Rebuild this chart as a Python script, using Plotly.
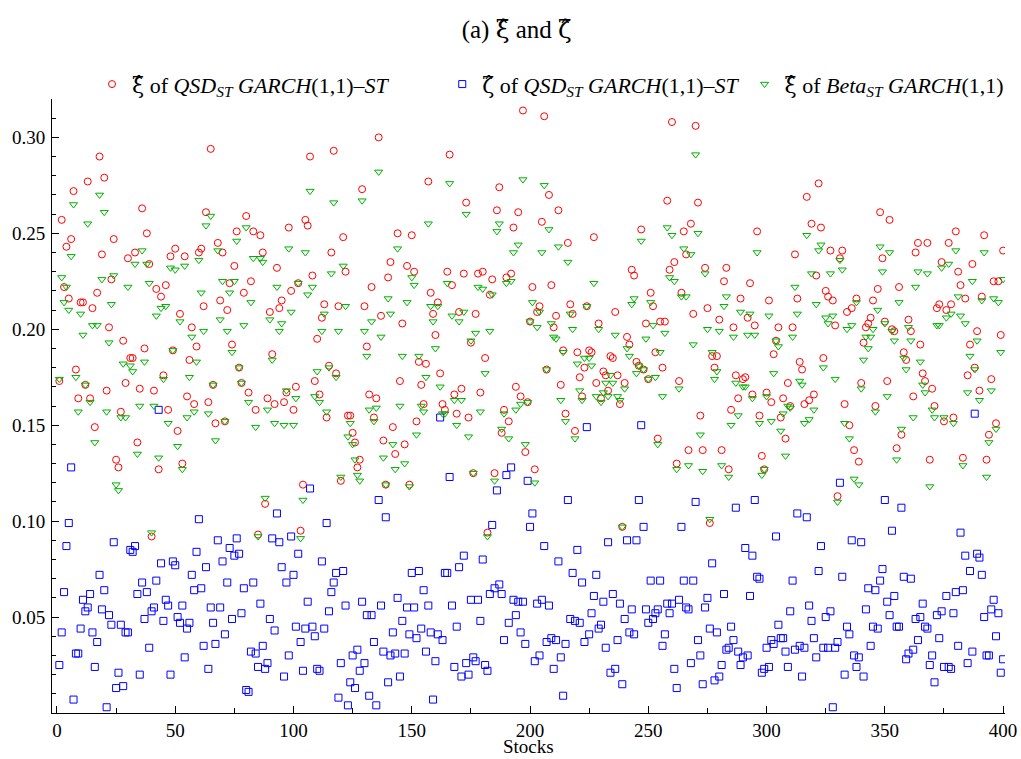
import plotly.graph_objects as go

stocks = list(range(1, 401))

xi_qsd = [
 0.173,0.257,0.222,0.243,0.216,0.247,0.272,0.179,0.164,0.214,
 0.214,0.171,0.277,0.164,0.211,0.149,0.219,0.290,0.239,0.279,
 0.168,0.201,0.226,0.247,0.132,0.128,0.157,0.194,0.172,0.237,
 0.185,0.185,0.240,0.141,0.169,0.263,0.190,0.250,0.234,0.092,
 0.168,0.221,0.127,0.217,0.176,0.223,0.158,0.238,0.189,0.242,
 0.147,0.208,0.130,0.238,0.165,0.184,0.201,0.161,0.191,0.240,
 0.242,0.212,0.261,0.162,0.294,0.171,0.151,0.245,0.215,0.240,
 0.152,0.210,0.224,0.192,0.233,0.251,0.180,0.172,0.219,0.259,
 0.167,0.225,0.251,0.158,0.093,0.249,0.240,0.109,0.164,0.209,
 0.187,0.161,0.232,0.211,0.215,0.162,0.167,0.253,0.220,0.158,
 0.170,0.224,0.095,0.119,0.257,0.254,0.290,0.228,0.173,0.195,
 0.166,0.206,0.213,0.154,0.181,0.240,0.293,0.177,0.212,0.121,
 0.248,0.230,0.155,0.155,0.146,0.141,0.128,0.132,0.273,0.212,
 0.191,0.166,0.222,0.154,0.164,0.300,0.207,0.142,0.119,0.227,
 0.235,0.149,0.135,0.250,0.173,0.203,0.140,0.233,0.119,0.249,
 0.230,0.152,0.183,0.171,0.161,0.182,0.277,0.219,0.208,0.197,
 0.214,0.177,0.161,0.158,0.230,0.291,0.223,0.166,0.156,0.209,
 0.169,0.229,0.266,0.154,0.193,0.125,0.208,0.229,0.167,0.230,
 0.185,0.094,0.218,0.226,0.125,0.262,0.274,0.146,0.158,0.227,
 0.152,0.229,0.253,0.170,0.261,0.165,0.314,0.136,0.162,0.204,
 0.222,0.127,0.209,0.212,0.256,0.311,0.179,0.270,0.223,0.201,
 0.207,0.262,0.171,0.189,0.156,0.245,0.213,0.208,0.147,0.188,
 0.175,0.165,0.180,0.212,0.189,0.188,0.248,0.172,0.203,0.164,
 0.178,0.176,0.168,0.186,0.185,0.209,0.176,0.161,0.097,0.172,
 0.196,0.192,0.231,0.228,0.183,0.181,0.252,0.179,0.203,0.174,
 0.219,0.212,0.188,0.143,0.204,0.180,0.204,0.267,0.231,0.308,
 0.235,0.130,0.173,0.219,0.251,0.239,0.137,0.255,0.208,0.306,
 0.266,0.155,0.137,0.232,0.211,0.099,0.186,0.180,0.186,0.205,
 0.137,0.225,0.232,0.127,0.158,0.201,0.176,0.164,0.216,0.174,
 0.175,0.206,0.224,0.166,0.202,0.251,0.155,0.134,0.127,0.167,
 0.215,0.162,0.187,0.194,0.201,0.154,0.164,0.143,0.172,0.160,
 0.201,0.239,0.216,0.183,0.179,0.161,0.269,0.163,0.255,0.166,
 0.228,0.276,0.253,0.185,0.220,0.217,0.241,0.215,0.202,0.113,
 0.237,0.241,0.161,0.209,0.150,0.211,0.137,0.216,0.131,0.172,
 0.193,0.201,0.203,0.206,0.215,0.160,0.221,0.261,0.237,0.204,
 0.173,0.257,0.200,0.199,0.138,0.222,0.145,0.188,0.184,0.205,
 0.199,0.165,0.240,0.245,0.192,0.177,0.173,0.245,0.132,0.169,
 0.160,0.211,0.213,0.235,0.152,0.210,0.245,0.213,0.154,0.251,
 0.230,0.223,0.133,0.216,0.176,0.192,0.234,0.180,0.199,0.168,
 0.217,0.249,0.132,0.145,0.174,0.225,0.151,0.225,0.197,0.241,
]

zeta_qsd = [
 0.025,0.042,0.063,0.087,0.099,0.128,0.007,0.031,0.031,0.044,
 0.059,0.053,0.055,0.062,0.042,0.024,0.037,0.072,0.054,0.064,
 0.003,0.051,0.046,0.089,0.013,0.021,0.046,0.014,0.042,0.042,
 0.085,0.084,0.087,0.062,0.020,0.068,0.049,0.063,0.034,0.053,
 0.055,0.069,0.158,0.078,0.048,0.059,0.056,0.020,0.079,0.077,
 0.050,0.047,0.056,0.029,0.044,0.047,0.072,0.064,0.084,0.101,
 0.065,0.035,0.076,0.023,0.055,0.047,0.036,0.090,0.055,0.079,
 0.041,0.068,0.086,0.049,0.082,0.091,0.083,0.052,0.065,0.012,
 0.011,0.032,0.068,0.031,0.024,0.057,0.035,0.023,0.026,0.049,
 0.091,0.043,0.104,0.089,0.076,0.019,0.068,0.030,0.092,0.072,
 0.045,0.083,0.037,0.022,0.044,0.058,0.117,0.045,0.040,0.023,
 0.022,0.079,0.044,0.099,0.053,0.063,0.068,0.073,0.008,0.026,
 0.074,0.056,0.004,0.016,0.030,0.013,0.033,0.022,0.058,0.026,
 0.051,0.009,0.051,0.037,0.004,0.111,0.056,0.032,0.102,0.016,
 0.030,0.042,0.031,0.060,0.019,0.048,0.031,0.055,0.041,0.073,
 0.055,0.039,0.074,0.044,0.064,0.032,0.056,0.042,0.007,0.027,
 0.041,0.154,0.038,0.073,0.073,0.123,0.056,0.024,0.045,0.076,
 0.019,0.082,0.026,0.020,0.059,0.029,0.027,0.059,0.048,0.080,
 0.025,0.022,0.062,0.098,0.065,0.116,0.067,0.062,0.038,0.124,
 0.047,0.128,0.059,0.051,0.058,0.042,0.058,0.036,0.121,0.097,
 0.104,0.027,0.057,0.030,0.059,0.087,0.037,0.056,0.039,0.023,
 0.038,0.079,0.029,0.009,0.036,0.111,0.049,0.073,0.048,0.085,
 0.047,0.068,0.037,0.149,0.041,0.052,0.061,0.072,0.044,0.046,
 0.058,0.034,0.089,0.021,0.062,0.023,0.038,0.057,0.015,0.049,
 0.090,0.042,0.054,0.041,0.090,0.111,0.150,0.097,0.054,0.047,
 0.069,0.049,0.052,0.054,0.069,0.035,0.041,0.057,0.052,0.057,
 0.023,0.013,0.059,0.097,0.069,0.055,0.054,0.026,0.069,0.110,
 0.038,0.030,0.015,0.055,0.060,0.044,0.078,0.017,0.042,0.019,
 0.025,0.062,0.033,0.034,0.045,0.038,0.107,0.032,0.025,0.029,
 0.086,0.030,0.061,0.082,0.111,0.071,0.070,0.021,0.023,0.034,
 0.024,0.038,0.036,0.092,0.046,0.039,0.039,0.032,0.024,0.053,
 0.069,0.033,0.104,0.035,0.019,0.034,0.102,0.056,0.048,0.039,
 0.029,0.074,0.087,0.034,0.050,0.034,0.053,0.003,0.034,0.037,
 0.120,0.071,0.020,0.045,0.041,0.090,0.030,0.024,0.029,0.089,
 0.019,0.054,0.065,0.035,0.045,0.064,0.044,0.069,0.075,0.111,
 0.058,0.051,0.095,0.061,0.045,0.045,0.107,0.071,0.028,0.031,
 0.070,0.033,0.049,0.038,0.050,0.057,0.045,0.044,0.025,0.030,
 0.016,0.051,0.039,0.053,0.024,0.061,0.024,0.023,0.052,0.063,
 0.035,0.094,0.064,0.082,0.026,0.074,0.032,0.156,0.083,0.081,
 0.072,0.050,0.030,0.030,0.054,0.059,0.040,0.052,0.021,0.028,
]

xi_beta = [
 0.174,0.227,0.214,0.222,0.210,0.238,0.265,0.175,0.157,0.208,
 0.197,0.171,0.255,0.162,0.202,0.141,0.202,0.270,0.226,0.261,
 0.157,0.193,0.213,0.228,0.119,0.116,0.154,0.182,0.154,0.222,
 0.181,0.178,0.234,0.135,0.160,0.241,0.183,0.234,0.224,0.094,
 0.160,0.207,0.133,0.211,0.174,0.212,0.151,0.232,0.189,0.231,
 0.139,0.204,0.127,0.233,0.154,0.175,0.196,0.157,0.183,0.236,
 0.219,0.199,0.254,0.156,0.259,0.171,0.142,0.241,0.205,0.225,
 0.152,0.199,0.219,0.188,0.225,0.246,0.180,0.172,0.202,0.253,
 0.162,0.214,0.237,0.149,0.092,0.237,0.235,0.112,0.158,0.205,
 0.184,0.151,0.222,0.199,0.203,0.150,0.168,0.242,0.209,0.150,
 0.164,0.224,0.091,0.111,0.240,0.218,0.272,0.222,0.165,0.178,
 0.162,0.199,0.208,0.157,0.180,0.229,0.266,0.175,0.199,0.123,
 0.233,0.212,0.144,0.151,0.140,0.132,0.124,0.121,0.267,0.199,
 0.186,0.158,0.204,0.152,0.159,0.282,0.196,0.133,0.119,0.216,
 0.208,0.140,0.127,0.242,0.160,0.186,0.130,0.214,0.118,0.227,
 0.223,0.145,0.186,0.160,0.157,0.175,0.255,0.212,0.204,0.190,
 0.212,0.170,0.156,0.156,0.224,0.276,0.207,0.163,0.150,0.204,
 0.163,0.209,0.260,0.144,0.194,0.125,0.198,0.222,0.157,0.221,
 0.177,0.092,0.199,0.218,0.121,0.251,0.255,0.148,0.156,0.224,
 0.143,0.225,0.240,0.158,0.244,0.161,0.278,0.140,0.162,0.204,
 0.214,0.120,0.201,0.209,0.240,0.275,0.179,0.252,0.203,0.196,
 0.195,0.243,0.163,0.188,0.152,0.235,0.208,0.200,0.143,0.182,
 0.168,0.163,0.185,0.212,0.185,0.181,0.224,0.165,0.200,0.162,
 0.167,0.172,0.165,0.176,0.172,0.197,0.165,0.163,0.097,0.169,
 0.190,0.186,0.213,0.216,0.177,0.181,0.246,0.179,0.195,0.174,
 0.214,0.202,0.175,0.140,0.188,0.165,0.198,0.253,0.227,0.249,
 0.225,0.127,0.169,0.217,0.242,0.217,0.129,0.239,0.192,0.291,
 0.250,0.145,0.126,0.229,0.200,0.101,0.188,0.174,0.178,0.199,
 0.129,0.212,0.217,0.123,0.150,0.196,0.172,0.155,0.209,0.170,
 0.170,0.197,0.208,0.164,0.197,0.240,0.151,0.124,0.127,0.165,
 0.207,0.152,0.177,0.194,0.191,0.147,0.156,0.134,0.160,0.159,
 0.196,0.222,0.208,0.173,0.171,0.151,0.249,0.153,0.229,0.158,
 0.213,0.241,0.244,0.180,0.206,0.203,0.229,0.207,0.174,0.110,
 0.236,0.231,0.151,0.200,0.143,0.202,0.122,0.214,0.119,0.169,
 0.184,0.196,0.190,0.196,0.200,0.157,0.210,0.243,0.230,0.203,
 0.165,0.240,0.199,0.194,0.132,0.214,0.148,0.185,0.179,0.201,
 0.194,0.154,0.222,0.230,0.183,0.171,0.167,0.229,0.118,0.158,
 0.154,0.202,0.202,0.232,0.154,0.206,0.234,0.208,0.151,0.241,
 0.217,0.207,0.129,0.203,0.167,0.186,0.225,0.179,0.194,0.163,
 0.215,0.240,0.123,0.141,0.168,0.216,0.148,0.214,0.188,0.226,
]

XI = "<span style=\"font-family:'DejaVu Serif'\">ξ̂</span>"
ZETA = "<span style=\"font-family:'DejaVu Serif'\">ζ̂</span>"
PAD = "\u00a0" * 9
names = [
    XI + " of <i>QSD</i><sub><i>ST</i></sub> <i>GARCH</i>(1,1)–<i>ST</i>" + PAD,
    ZETA + " of <i>QSD</i><sub><i>ST</i></sub> <i>GARCH</i>(1,1)–<i>ST</i>",
    XI + " of <i>Beta</i><sub><i>ST</i></sub> <i>GARCH</i>(1,1)",
]
title_text = "(a) " + XI + " and " + ZETA
y_tickvals = [0.05, 0.10, 0.15, 0.20, 0.25, 0.30]
y_ticktext = ["0.05", "0.10", "0.15", "0.20", "0.25", "0.30"]
x_tickvals = [0, 50, 100, 150, 200, 250, 300, 350, 400]

FONT = "Liberation Serif, DejaVu Serif, serif"

fig = go.Figure()
fig.add_trace(go.Scatter(x=stocks, y=xi_qsd, mode="markers", name=names[0],
                         marker=dict(symbol="circle-open", size=7, color="#ff0000", line=dict(width=1))))
fig.add_trace(go.Scatter(x=stocks, y=zeta_qsd, mode="markers", name=names[1],
                         marker=dict(symbol="square-open", size=7, color="#0000ff", line=dict(width=1))))
fig.add_trace(go.Scatter(x=stocks, y=xi_beta, mode="markers", name=names[2],
                         marker=dict(symbol="triangle-down-open", size=7, color="#00b000", line=dict(width=1))))

fig.update_layout(
    width=1021, height=759,
    paper_bgcolor="white", plot_bgcolor="white",
    margin=dict(l=52, r=16, t=99, b=46, autoexpand=False),
    font=dict(family=FONT, size=19, color="black"),
    title=dict(text=title_text, x=0.506, xanchor="center",
               y=0.962, yanchor="middle", font=dict(size=25, family=FONT)),
    legend=dict(orientation="h", x=0.042, xanchor="left", y=1.024, yanchor="middle",
                font=dict(size=22, family=FONT), bgcolor="rgba(0,0,0,0)",
                itemwidth=30, tracegroupgap=0),
    showlegend=True,
    annotations=[dict(text="Stocks", x=0.5, xref="paper", y=-0.0725, yref="paper",
                      yanchor="bottom", xanchor="center", showarrow=False, borderpad=0,
                      font=dict(size=19, family=FONT))],
)
fig.update_xaxes(
    range=[-2.1, 400.8], showline=True, linecolor="black", linewidth=1, mirror=False,
    showgrid=False, zeroline=False, automargin=False,
    tickmode="array", tickvals=x_tickvals, ticks="inside", ticklen=7, tickcolor="black",
    minor=dict(dtick=25, tick0=0, ticks="inside", ticklen=5, tickcolor="black", showgrid=False),
    tickfont=dict(size=19, family=FONT),
)
fig.update_yaxes(
    range=[0, 0.32], showline=True, linecolor="black", linewidth=1, mirror=False,
    showgrid=False, zeroline=False, automargin=False,
    tickmode="array", tickvals=y_tickvals, ticktext=y_ticktext,
    ticks="inside", ticklen=7, tickcolor="black",
    minor=dict(dtick=0.01, tick0=0, ticks="inside", ticklen=4, tickcolor="black", showgrid=False),
    tickfont=dict(size=19, family=FONT), ticklabelstandoff=2,
)

fig.write_html("out.html", config={"displayModeBar": False},
               post_script="document.body.style.margin='0px';")
